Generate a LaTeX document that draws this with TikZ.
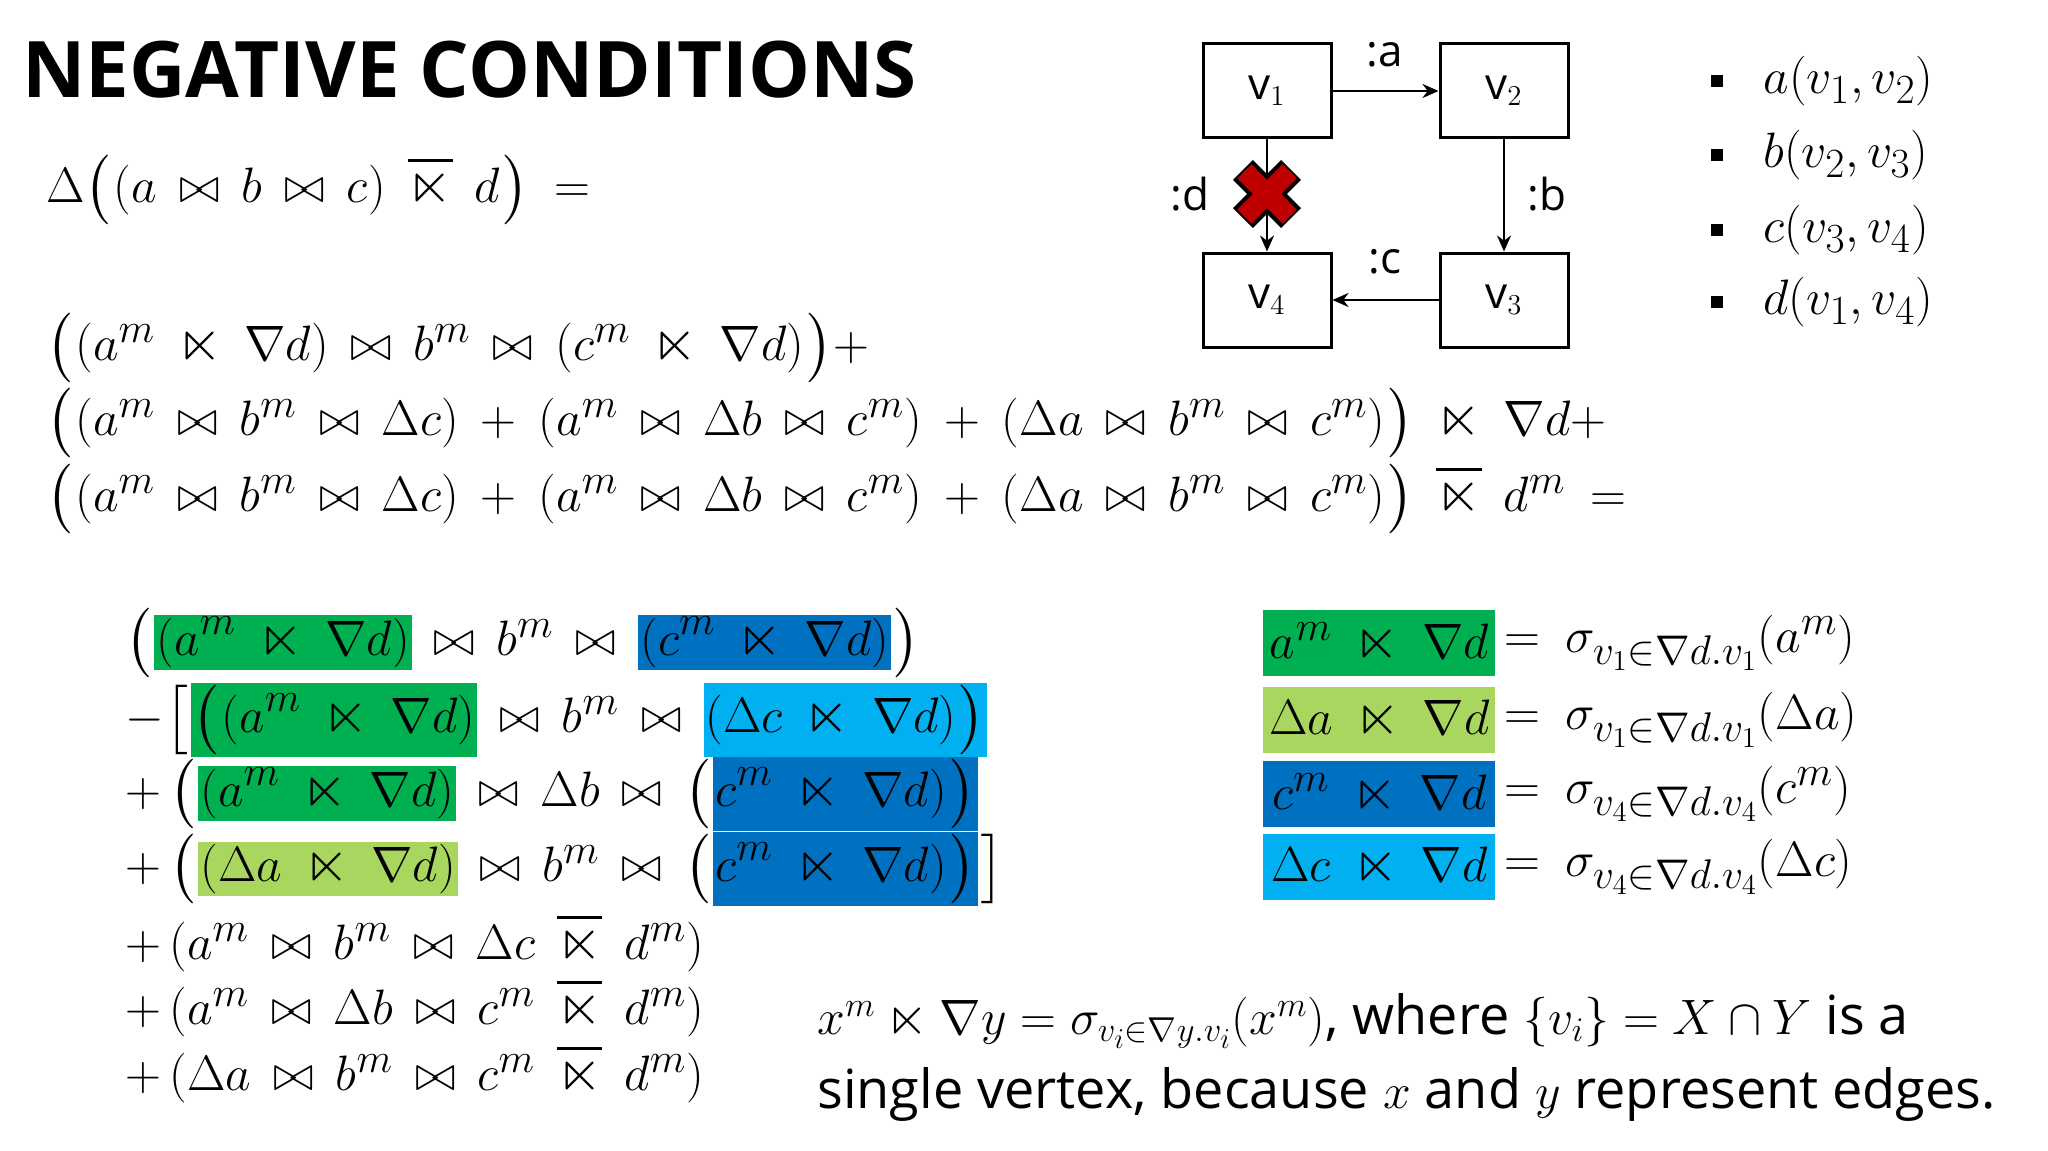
\documentclass[tikz,border=0pt]{standalone}
\usepackage{amssymb}
\usepackage{fontspec}
\setmainfont{Open Sans}
\usetikzlibrary{arrows.meta,calc}
\definecolor{cg}{HTML}{00B050}
\definecolor{clg}{HTML}{A9D65E}
\definecolor{cb}{HTML}{0070C0}
\definecolor{clb}{HTML}{00B0F0}
\newcommand{\hlx}[2]{{\setlength{\fboxsep}{1pt}\colorbox{#1}{$\displaystyle #2$}}}
\newcommand{\aj}{\mathbin{\overline{\ltimes}}}
\newcommand{\sj}{\mathbin{\ltimes}}
\newcommand{\jn}{\mathbin{\bowtie}}
\newcommand{\strutB}{\vrule height 0.72em depth 0.18em width 0pt}
\newcommand{\Lo}[1]{\mathopen{\left#1\strutB\right.}}
\newcommand{\Lc}[1]{\mathclose{\left.\strutB\right#1}}
\newcommand{\widemath}{\medmuskip=8mu plus 2mu\thickmuskip=9mu plus 3mu}
\begin{document}
\begin{tikzpicture}[x=0.5pt,y=-0.5pt,
  mathtxt/.style={anchor=west,inner sep=0pt,font=\fontsize{27}{32}\selectfont},
  mathrow/.style={anchor=west,inner sep=0pt,font=\fontsize{29}{34}\selectfont\widemath},
  vbox/.style={draw,line width=1.5pt,minimum width=64pt,minimum height=47pt,inner sep=0pt,font=\fontsize{22}{26}\selectfont},
  lbl/.style={inner sep=0pt,font=\fontsize{22}{26}\selectfont},
  arr/.style={-{Stealth[length=8pt,width=7pt]},line width=1.3pt},
  hlbox/.style={anchor=west,inner sep=0pt,minimum height=33pt,minimum width=116pt,text width=116pt,align=center,font=\fontsize{29}{34}\selectfont\widemath}]
\useasboundingbox (0,0) rectangle (2048,1150);
\node[anchor=base west,inner sep=0pt,font=\fontsize{39}{44}\selectfont\bfseries] (title) at (22,98) {NEGATIVE CONDITIONS};
\node[mathrow] (l0) at (46,190) {$\Delta\Lo((a\jn b\jn c)\aj d\Lc) =$};
\node[mathrow] (l1) at (46,348) {$\Lo((a^m\sj\nabla d)\jn b^m\jn(c^m\sj\nabla d)\Lc) +$};
\node[mathrow] (l2) at (46,423) {$\Lo((a^m\jn b^m\jn\Delta c)+(a^m\jn\Delta b\jn c^m)+(\Delta a\jn b^m\jn c^m)\Lc)\sj\nabla d +$};
\node[mathrow] (l3) at (46,499) {$\Lo((a^m\jn b^m\jn\Delta c)+(a^m\jn\Delta b\jn c^m)+(\Delta a\jn b^m\jn c^m)\Lc)\aj d^m =$};
% lower block
\node[mathrow] (r1) at (125,643) {$\Lo(\hlx{cg}{(a^m\sj\nabla d)}\jn b^m\jn\hlx{cb}{(c^m\sj\nabla d)}\Lc)$};
\node[mathrow] (r2) at (125,720) {$-\Lo[\hlx{cg}{\Lo((a^m\sj\nabla d)}\jn b^m\jn\hlx{clb}{(\Delta c\sj\nabla d)\Lc)}$};
\node[mathrow] (r3) at (125,794) {$+\,\Lo(\hlx{cg}{(a^m\sj\nabla d)}\jn\Delta b\jn\Lo(\hlx{cb}{c^m\sj\nabla d)\Lc)}$};
\node[mathrow] (r4) at (125,869) {$+\,\Lo(\hlx{clg}{(\Delta a\sj\nabla d)}\jn b^m\jn\Lo(\hlx{cb}{c^m\sj\nabla d)\Lc)}\Lc]$};
\node[mathrow] (r5) at (125,943) {$+\,(a^m\jn b^m\jn\Delta c\aj d^m)$};
\node[mathrow] (r6) at (125,1008) {$+\,(a^m\jn\Delta b\jn c^m\aj d^m)$};
\node[mathrow] (r7) at (125,1074) {$+\,(\Delta a\jn b^m\jn c^m\aj d^m)$};
% right block
\node[hlbox,fill=cg] (h1) at (1263,643) {$a^m\sj\nabla d$};
\node[hlbox,fill=clg] (h2) at (1263,720) {$\Delta a\sj\nabla d$};
\node[hlbox,fill=cb] (h3) at (1263,794) {$c^m\sj\nabla d$};
\node[hlbox,fill=clb] (h4) at (1263,867) {$\Delta c\sj\nabla d$};
\node[mathrow] (e1) at (h1.east) {$\,=\sigma_{v_1\in\nabla d.v_1}(a^m)$};
\node[mathrow] (e2) at (h2.east) {$\,=\sigma_{v_1\in\nabla d.v_1}(\Delta a)$};
\node[mathrow] (e3) at (h3.east) {$\,=\sigma_{v_4\in\nabla d.v_4}(c^m)$};
\node[mathrow] (e4) at (h4.east) {$\,=\sigma_{v_4\in\nabla d.v_4}(\Delta c)$};
% bottom text
\node[mathtxt] (t1) at (817,1021) {$x^m\sj\nabla y=\sigma_{v_i\in\nabla y.v_i}(x^m)$, where $\{v_i\}=X\cap Y$ is a};
\node[mathtxt] (t2) at (817,1094) {single vertex, because $x$ and $y$ represent edges.};
% graph
\node[vbox] (v1) at (1267,91) {v$_1$};
\node[vbox] (v2) at (1504,91) {v$_2$};
\node[vbox] (v4) at (1267,300) {v$_4$};
\node[vbox] (v3) at (1504,300) {v$_3$};
\draw[arr] (v1) -- (v2);
\draw[arr] (v2) -- (v3);
\draw[arr] (v3) -- (v4);
\draw[arr] (v1) -- (v4);
\node[lbl] (la) at (1385,55) {:a};
\node[lbl] (lb) at (1547,194) {:b};
\node[lbl] (lc) at (1385,262) {:c};
\node[lbl] (ld) at (1190,194) {:d};
\coordinate (xc) at (1267,194);
\foreach \a in {45,135}{
  \draw[line width=14pt,black,rotate around={\a:(xc)}] ($(xc)+(-34,0)$) -- ($(xc)+(34,0)$);}
\foreach \a in {45,135}{
  \draw[line width=10pt,red!75!black,rotate around={\a:(xc)}] ($(xc)+(-32,0)$) -- ($(xc)+(32,0)$);}
% list
\foreach \y/\t [count=\i] in {81/{a(v_1,v_2)},155/{b(v_2,v_3)},230/{c(v_3,v_4)},302/{d(v_1,v_4)}}{
  \node[inner sep=0pt,fill=black,minimum size=6pt] (bul\i) at (1717,\y) {};
  \node[mathrow] (it\i) at (1763,\y) {$\t$};}
\end{tikzpicture}
\end{document}
